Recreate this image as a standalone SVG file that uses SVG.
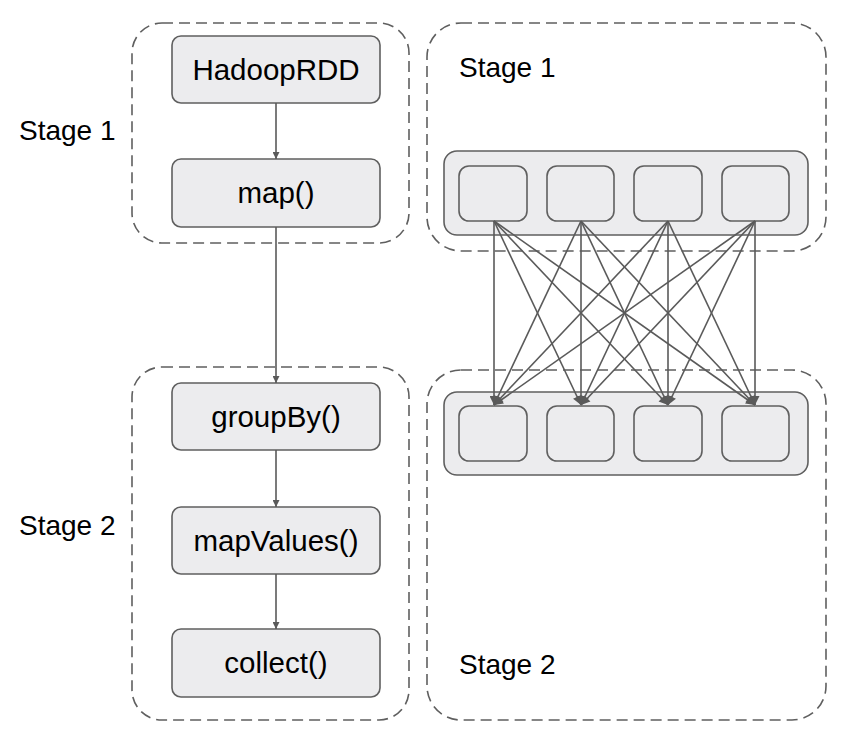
<svg xmlns="http://www.w3.org/2000/svg" width="848" height="741" viewBox="0 0 848 741">
<style>
.grp{fill:none;stroke:#5f5f5f;stroke-width:1.6;stroke-dasharray:11 6}
.box{fill:#ececee;stroke:#5f5f5f;stroke-width:1.6}
.lbl{font-family:"Liberation Sans",Arial,sans-serif;font-size:28px;fill:#000}
.bl{font-size:29.5px}
.c{text-anchor:middle}
.edge{stroke:#5a5a5a;stroke-width:1.6;fill:none;marker-end:url(#ah)}
.x{marker-end:url(#ah2)}
</style>
<defs>
<marker id="ah" viewBox="0 0 10 10" refX="10" refY="5" markerWidth="8" markerHeight="7" markerUnits="userSpaceOnUse" orient="auto">
<path d="M0,0 L10,5 L0,10 z" fill="#5a5a5a"/>
</marker>
<marker id="ah2" viewBox="0 0 10 10" refX="10" refY="5" markerWidth="10" markerHeight="9" markerUnits="userSpaceOnUse" orient="auto">
<path d="M0,0 L10,5 L0,10 z" fill="#5a5a5a"/>
</marker>
</defs>
<rect width="848" height="741" fill="#fff"/>

<g id="stage1-left">
<rect class="grp" x="132" y="23" width="277" height="220" rx="30"/>
<text class="lbl" x="19" y="140">Stage 1</text>
</g>
<g id="stage2-left">
<rect class="grp" x="132" y="367" width="277" height="353" rx="30"/>
<text class="lbl" x="19" y="535">Stage 2</text>
</g>
<g id="stage1-right">
<rect class="grp" x="427" y="23" width="399" height="228" rx="34"/>
<text class="lbl" x="459" y="77">Stage 1</text>
</g>
<g id="stage2-right">
<rect class="grp" x="427" y="370" width="399" height="350" rx="34"/>
<text class="lbl" x="459" y="674">Stage 2</text>
</g>

<g id="hadooprdd"><rect class="box" x="172" y="36" width="208" height="67" rx="9"/><text class="lbl bl c" x="276" y="80">HadoopRDD</text></g>
<g id="map"><rect class="box" x="172" y="159" width="208" height="68" rx="9"/><text class="lbl bl c" x="276" y="203">map()</text></g>
<g id="groupby"><rect class="box" x="172" y="383" width="208" height="67" rx="9"/><text class="lbl bl c" x="276" y="427">groupBy()</text></g>
<g id="mapvalues"><rect class="box" x="172" y="507" width="208" height="67" rx="9"/><text class="lbl bl c" x="276" y="551">mapValues()</text></g>
<g id="collect"><rect class="box" x="172" y="629" width="208" height="68" rx="9"/><text class="lbl bl c" x="276" y="673">collect()</text></g>

<g id="partitions-1">
<rect class="box" x="444" y="151" width="364" height="84" rx="13"/>
<rect class="box" x="459" y="166" width="68" height="55" rx="10"/>
<rect class="box" x="547" y="166" width="67" height="55" rx="10"/>
<rect class="box" x="634" y="166" width="68" height="55" rx="10"/>
<rect class="box" x="722" y="166" width="67" height="55" rx="10"/>
</g>
<g id="partitions-2">
<rect class="box" x="444" y="392" width="364" height="83" rx="13"/>
<rect class="box" x="459" y="406" width="68" height="55" rx="10"/>
<rect class="box" x="547" y="406" width="67" height="55" rx="10"/>
<rect class="box" x="634" y="406" width="68" height="55" rx="10"/>
<rect class="box" x="722" y="406" width="67" height="55" rx="10"/>
</g>

<g id="connectors">
<line class="edge" x1="276" y1="103" x2="276" y2="159"/>
<line class="edge" x1="276" y1="227" x2="276" y2="383"/>
<line class="edge" x1="276" y1="450" x2="276" y2="507"/>
<line class="edge" x1="276" y1="574" x2="276" y2="629"/>
<line class="edge x" x1="494" y1="221" x2="494" y2="405"/>
<line class="edge x" x1="494" y1="221" x2="581" y2="405"/>
<line class="edge x" x1="494" y1="221" x2="668" y2="405"/>
<line class="edge x" x1="494" y1="221" x2="755" y2="405"/>
<line class="edge x" x1="581" y1="221" x2="494" y2="405"/>
<line class="edge x" x1="581" y1="221" x2="581" y2="405"/>
<line class="edge x" x1="581" y1="221" x2="668" y2="405"/>
<line class="edge x" x1="581" y1="221" x2="755" y2="405"/>
<line class="edge x" x1="668" y1="221" x2="494" y2="405"/>
<line class="edge x" x1="668" y1="221" x2="581" y2="405"/>
<line class="edge x" x1="668" y1="221" x2="668" y2="405"/>
<line class="edge x" x1="668" y1="221" x2="755" y2="405"/>
<line class="edge x" x1="755" y1="221" x2="494" y2="405"/>
<line class="edge x" x1="755" y1="221" x2="581" y2="405"/>
<line class="edge x" x1="755" y1="221" x2="668" y2="405"/>
<line class="edge x" x1="755" y1="221" x2="755" y2="405"/>
</g>
</svg>
